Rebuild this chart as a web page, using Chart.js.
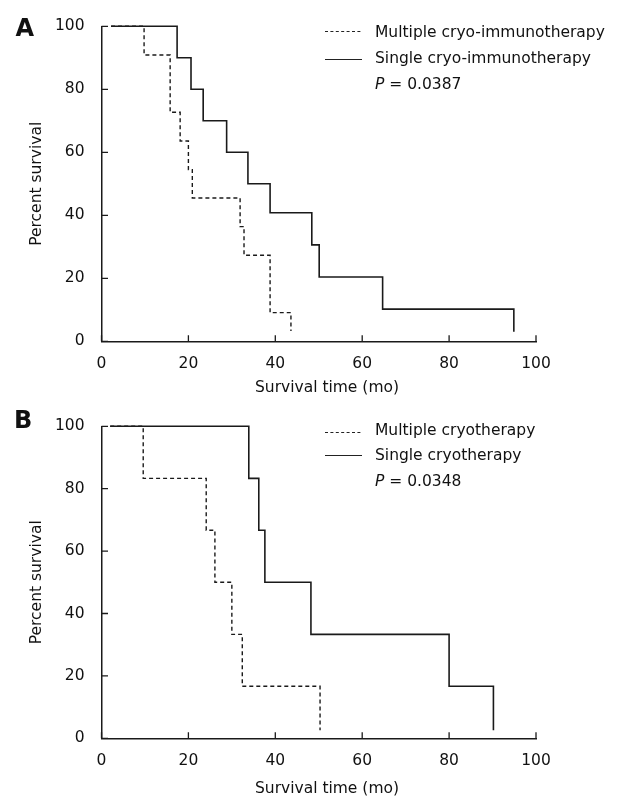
<!DOCTYPE html>
<html><head><meta charset="utf-8">
<script src="https://cdn.jsdelivr.net/npm/chart.js@4"></script>
<style>
body{margin:0;background:#fff;width:630px;height:803px;position:relative;overflow:hidden;font-family:"DejaVu Sans",sans-serif;color:#111}
canvas{position:absolute;left:0}
.lbl{position:absolute;font-size:15.5px;line-height:1;white-space:nowrap}
.xt{position:absolute;font-size:15.5px;line-height:1;white-space:nowrap;width:240px;text-align:center}
.letter{position:absolute;font-weight:bold;font-size:24px;line-height:1}
svg{position:absolute;left:0;top:0}
</style></head><body>
<canvas id="cA" width="630" height="400" style="top:0"></canvas>
<canvas id="cB" width="630" height="403" style="top:400px"></canvas>
<svg width="630" height="803">
  <line x1="325" x2="362" y1="31.5" y2="31.5" stroke="#222" stroke-width="1" stroke-dasharray="3,2.4"/>
  <line x1="325" x2="362" y1="59.5" y2="59.5" stroke="#222" stroke-width="1"/>
  <line x1="325" x2="362" y1="432.5" y2="432.5" stroke="#222" stroke-width="1" stroke-dasharray="3,2.4"/>
  <line x1="325" x2="362" y1="455.5" y2="455.5" stroke="#222" stroke-width="1"/>
</svg>
<div class="letter" style="left:15.5px;top:16px">A</div>
<div class="letter" style="left:14px;top:407.5px">B</div>
<div class="lbl" style="left:375px;top:25px">Multiple cryo-immunotherapy</div>
<div class="lbl" style="left:375px;top:51px">Single cryo-immunotherapy</div>
<div class="lbl" style="left:375px;top:76.5px"><i>P</i> = 0.0387</div>
<div class="lbl" style="left:375px;top:422.5px">Multiple cryotherapy</div>
<div class="lbl" style="left:375px;top:448px">Single cryotherapy</div>
<div class="lbl" style="left:375px;top:473.5px"><i>P</i> = 0.0348</div>
<div class="xt" style="left:207px;top:380px">Survival time (mo)</div>
<div class="xt" style="left:207px;top:781px">Survival time (mo)</div>
<script>
// ---- data ----
const xTickValues = [0, 20, 40, 60, 80, 100];
const yTickValues = [0, 20, 40, 60, 80, 100];

const timeA_multi   = [2.2, 9.8, 15.8, 18.1, 20.0, 20.9, 31.9, 32.8, 38.8, 43.6];
const survA_multi   = [100, 90.9, 72.7, 63.6, 54.5, 45.5, 36.4, 27.3, 9.1, 3.3];
const timeA_single  = [2.2, 17.4, 20.6, 23.4, 28.8, 33.7, 38.8, 48.4, 50.1, 64.7, 94.9];
const survA_single  = [100, 90, 80, 70, 60, 50, 40.8, 30.6, 20.4, 10.2, 3];

const timeB_multi   = [2.0, 9.6, 24.1, 26.1, 30.0, 32.4, 50.3];
const survB_multi   = [100, 83.3, 66.7, 50, 33.3, 16.7, 2.6];
const timeB_single  = [2.0, 33.9, 36.2, 37.6, 48.2, 80.0, 90.2];
const survB_single  = [100, 83.3, 66.7, 50, 33.3, 16.7, 2.6];

const FONT = {family: '"DejaVu Sans", sans-serif', size: 15.5};
const INK = '#1a1a1a';

const pts = (t, s) => t.map((v, i) => ({x: v, y: s[i]}));

const inwardTicks = {
  id: 'inwardTicks',
  afterDraw(chart) {
    const {ctx, chartArea: a, scales: {x, y}} = chart;
    ctx.save();
    ctx.strokeStyle = INK; ctx.lineWidth = 1.3;
    ctx.beginPath();
    x.ticks.forEach(t => { const px = x.getPixelForValue(t.value); ctx.moveTo(px, a.bottom); ctx.lineTo(px, a.bottom - 6); });
    y.ticks.forEach(t => { const py = y.getPixelForValue(t.value); ctx.moveTo(a.left, py); ctx.lineTo(a.left + 6.5, py); });
    ctx.stroke();
    ctx.restore();
  }
};

function makeChart(id, cfg) {
  const canvasH = cfg.canvasH;
  new Chart(document.getElementById(id), {
    type: 'line',
    data: {
      datasets: [
        {data: pts(cfg.tm, cfg.sm), borderColor: INK, borderWidth: 1.4, borderDash: [4, 3], stepped: true, pointRadius: 0, fill: false, clip: 6},
        {data: pts(cfg.ts, cfg.ss), borderColor: INK, borderWidth: 1.6, stepped: true, pointRadius: 0, fill: false, clip: 6}
      ]
    },
    options: {
      responsive: false, animation: false,
      layout: {padding: {top: cfg.top, right: 94, left: 0, bottom: 0}},
      plugins: {legend: {display: false}, tooltip: {enabled: false}},
      scales: {
        x: {
          type: 'linear', min: 0, max: 100,
          afterBuildTicks: s => { s.ticks = xTickValues.map(v => ({value: v})); },
          afterFit: s => { s.height = canvasH - cfg.bottom; },
          grid: {display: false, drawTicks: false},
          border: {display: true, color: INK, width: 1.5},
          ticks: {color: '#111', font: FONT, padding: cfg.xpad, maxRotation: 0}
        },
        y: {
          type: 'linear', min: 0, max: 100,
          afterBuildTicks: s => { s.ticks = yTickValues.map(v => ({value: v})); },
          afterFit: s => { s.width = 101.5; },
          grid: {display: false, drawTicks: false},
          border: {display: true, color: INK, width: 1.5},
          ticks: {color: '#111', font: FONT, padding: 17},
          title: {display: true, text: 'Percent survival', color: '#111', font: FONT, padding: {top: 27.5, bottom: 0}}
        }
      }
    },
    plugins: [inwardTicks]
  });
}

makeChart('cA', {canvasH: 400, top: 24.7, bottom: 341.3, xpad: 13.5,
  tm: timeA_multi, sm: survA_multi, ts: timeA_single, ss: survA_single});
makeChart('cB', {canvasH: 403, top: 21.3, bottom: 338.3, xpad: 13.2,
  tm: timeB_multi, sm: survB_multi, ts: timeB_single, ss: survB_single});
</script>
</body></html>
